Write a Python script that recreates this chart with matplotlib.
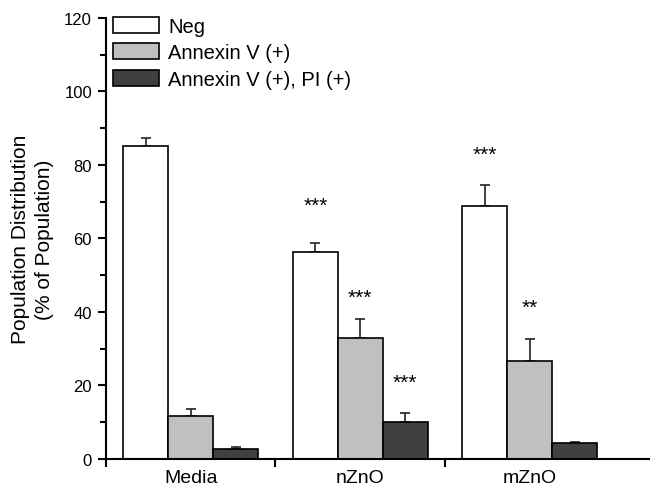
import matplotlib
matplotlib.use("Agg")
import matplotlib.pyplot as plt
import numpy as np

plt.rcParams['font.family'] = ['Liberation Sans', 'DejaVu Sans']

categories = ["Media", "nZnO", "mZnO"]
series_names = ["Neg", "Annexin V (+)", "Annexin V (+), PI (+)"]
neg = [85.1, 56.3, 68.8]
neg_err = [2.1, 2.5, 5.7]
annexin = [11.7, 32.8, 26.6]
annexin_err = [1.8, 5.2, 6.1]
double = [2.7, 10.0, 4.3]
double_err = [0.7, 2.4, 0.3]
# significance marks: (category index, series index, label, y position)
sig_cat = [1, 1, 1, 2, 2]
sig_series = [0, 1, 2, 0, 1]
sig_text = ["***", "***", "***", "***", "**"]
sig_y = [68.9, 44.0, 20.8, 83.0, 41.3]

colors = ["#ffffff", "#c0c0c0", "#404040"]

fig = plt.figure(figsize=(6.5, 4.89), dpi=100)
ax = fig.add_axes([0.163, 0.0593, 0.837, 0.902])

x = np.arange(len(categories))
w = 0.265
values = [neg, annexin, double]
errs = [neg_err, annexin_err, double_err]
for i, (vals, er, c, name) in enumerate(zip(values, errs, colors, series_names)):
    pos = x + (i - 1) * w
    ax.bar(pos, vals, width=w, color=c, edgecolor="black", linewidth=1.2,
           label=name, zorder=2)
    ax.errorbar(pos, vals, yerr=[np.zeros(len(er)), er], fmt="none",
                ecolor="#222222", elinewidth=1.2, capsize=3.5, capthick=1.2, zorder=1)

for ci, si, t, yy in zip(sig_cat, sig_series, sig_text, sig_y):
    ax.text(x[ci] + (si - 1) * w, yy, t, ha="center", va="center", fontsize=15)

ax.set_xlim(-0.5, 2.709)
ax.set_ylim(0, 120)
ax.set_yticks(np.arange(0, 121, 20))
ax.set_yticks(np.arange(10, 120, 20), minor=True)
ax.set_xticks([-0.5, 0.5, 1.5])
ax.set_xticklabels([])
ax.set_xticks(x, minor=True)
ax.set_xticklabels(categories, minor=True, fontsize=14)
ax.tick_params(axis="x", which="minor", length=0, pad=7)
ax.tick_params(axis="x", which="major", length=6, width=1.5, direction="out")
ax.tick_params(axis="y", which="major", length=6, width=1.5, direction="out",
               labelsize=12, pad=4)
ax.tick_params(axis="y", which="minor", length=4, width=1.5, direction="out")

for s in ["top", "right"]:
    ax.spines[s].set_visible(False)
for s in ["left", "bottom"]:
    ax.spines[s].set_linewidth(1.5)

ax.set_ylabel("Population Distribution\n(% of Population)", fontsize=15,
              labelpad=7, linespacing=1.35)

ax.legend(loc="upper left", bbox_to_anchor=(-0.0129, 1.035), frameon=False, fontsize=14.5,
          handlelength=2.3, handleheight=0.85, labelspacing=0.375, handletextpad=0.45,
          borderaxespad=0.3)

fig.savefig("out.png", dpi=100)
